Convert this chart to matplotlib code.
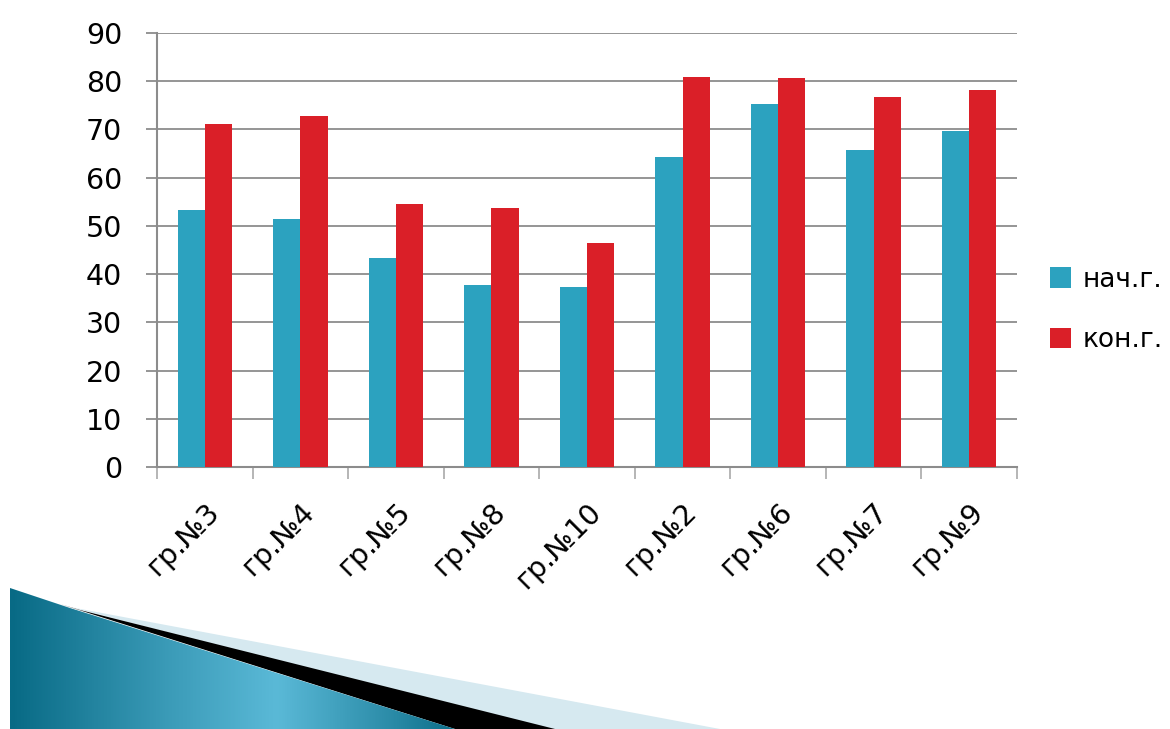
import numpy as np
import matplotlib
matplotlib.use("Agg")
import matplotlib.pyplot as plt
from matplotlib.patches import Polygon, PathPatch
from matplotlib.path import Path
from matplotlib.colors import LinearSegmentedColormap

categories = ["гр.№3", "гр.№4", "гр.№5", "гр.№8", "гр.№10", "гр.№2", "гр.№6", "гр.№7", "гр.№9"]
start_vals = [53.2, 51.5, 43.3, 37.7, 37.4, 64.2, 75.2, 65.8, 69.6]
end_vals = [71.2, 72.8, 54.5, 53.8, 46.4, 80.8, 80.7, 76.7, 78.2]
series_names = ["нач.г.", "кон.г."]
yticks = [0, 10, 20, 30, 40, 50, 60, 70, 80, 90]

TEAL = "#2CA2BF"
RED = "#DA1F28"
GRID = "#8C8C8C"

plt.rcParams['font.family'] = ['DejaVu Sans']

W, H = 1170, 729
fig = plt.figure(figsize=(W / 100, H / 100), dpi=100)

# decorative shape (background overlay axes)
deco = fig.add_axes([0, 0, 1, 1], zorder=0)
deco.set_xlim(0, W)
deco.set_ylim(H, 0)
deco.axis("off")
light = Polygon([(70, 607), (720, 729), (540, 729)], closed=True, facecolor="#D6E9F0", edgecolor="none")
deco.add_patch(light)
black = Polygon([(60, 604), (80, 610), (555, 729), (455, 729)], closed=True, facecolor="black", edgecolor="none")
deco.add_patch(black)
teal_verts = [(10, 588), (40, 598), (70, 608), (455, 729), (10, 729), (10, 588)]
teal_path = Path(teal_verts)
grad = np.linspace(0, 1, 256)
prof = np.interp(grad, [0, 0.35, 0.6, 0.85, 1.0], [0.0, 0.55, 0.9, 0.4, 0.05])
cmap = LinearSegmentedColormap.from_list("tg", ["#086A85", "#5AB9D7"])
img = deco.imshow(prof[np.newaxis, :], cmap=cmap, extent=[10, 455, 729, 588], aspect="auto", zorder=1)
clip = PathPatch(teal_path, transform=deco.transData, facecolor="none", edgecolor="none")
deco.add_patch(clip)
img.set_clip_path(clip)

# main axes
ax = fig.add_axes([157 / W, 1 - 467 / H, (1017 - 157) / W, (467 - 33) / H], zorder=1)
ax.patch.set_alpha(0)
x = np.arange(len(categories))
bw = 0.285
ax.bar(x - bw / 2, start_vals, bw, color=TEAL, label=series_names[0], zorder=3)
ax.bar(x + bw / 2, end_vals, bw, color=RED, label=series_names[1], zorder=3)

ax.set_xlim(-0.5, len(categories) - 0.5)
ax.set_ylim(0, 90)
ax.set_yticks(yticks)
ax.set_yticklabels([str(v) for v in yticks], fontsize=20.5)
ax.yaxis.grid(True, color=GRID, linewidth=1.3, zorder=0)
ax.tick_params(axis="y", length=8, width=1.3, color=GRID, pad=17)
ax.set_xticks(np.arange(len(categories) + 1) - 0.5, minor=False)
ax.set_xticklabels([])
ax.tick_params(axis="x", length=8.5, width=1.3, color="#B0B0B0", direction="out")
ax.set_xticks(x, minor=True)
ax.set_xticklabels(categories, minor=True, rotation=45, ha="right", va="top",
                   rotation_mode="anchor", fontsize=20.5)
ax.tick_params(axis="x", which="minor", length=0, pad=22)
for s in ["top", "right"]:
    ax.spines[s].set_visible(False)
for s in ["left", "bottom"]:
    ax.spines[s].set_color(GRID)
    ax.spines[s].set_linewidth(1.5)

leg = fig.legend(loc="upper left", bbox_to_anchor=(1026 / W, 1 - 243 / H), frameon=False,
                 fontsize=19, handlelength=0.8, handleheight=0.8, labelspacing=1.3,
                 handletextpad=0.45)

fig.savefig("out.png", dpi=100)
